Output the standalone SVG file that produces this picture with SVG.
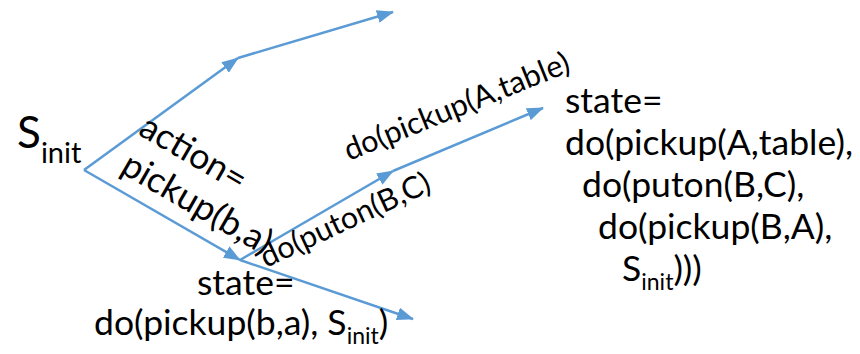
<svg xmlns="http://www.w3.org/2000/svg" width="860" height="354" viewBox="0 0 860 354">
<style>
text{font-family:Lato,"Open Sans","Liberation Sans",sans-serif;fill:#000}
.big{font-size:35.5px}
.lbl{font-size:30.5px}
.sub{font-size:23px}
.conn line{stroke:#5B9BD5;stroke-width:2.5;fill:none}
</style>
<defs>
<marker id="ah" markerUnits="userSpaceOnUse" markerWidth="17" markerHeight="13" refX="16" refY="6.5" orient="auto">
<path d="M0,0 L17,6.5 L0,13 z" fill="#5B9BD5"/>
</marker>
</defs>
<rect width="860" height="354" fill="#fff"/>
<g id="connectors" class="conn">
<line x1="84" y1="170" x2="238" y2="58" marker-end="url(#ah)"/>
<line x1="238" y1="58" x2="393" y2="12" marker-end="url(#ah)"/>
<line x1="84" y1="170" x2="240" y2="260" marker-end="url(#ah)"/>
<line x1="240" y1="260" x2="393" y2="171" marker-end="url(#ah)"/>
<line x1="393" y1="171" x2="543" y2="108" marker-end="url(#ah)"/>
<line x1="240" y1="260" x2="413" y2="319" marker-end="url(#ah)"/>
</g>
<g id="s-init">
<text x="17" y="148" style="font-size:44px">S<tspan style="font-size:29px" dy="15">init</tspan></text>
</g>
<g id="label-action">
<text class="big" transform="translate(137,134) rotate(30)">action=</text>
<text class="big" transform="translate(119,172) rotate(30)">pickup(b,a)</text>
</g>
<g id="label-pickupA">
<text class="lbl" transform="translate(349,161) rotate(-22)">do(pickup(A,table)</text>
</g>
<g id="label-puton">
<text class="lbl" transform="translate(266,268) rotate(-25)">do(puton(B,C)</text>
</g>
<g id="state-1">
<text class="big" x="197" y="295">state=</text>
<text class="big" x="94" y="335">do(pickup(b,a), S<tspan class="sub" dy="9">init</tspan><tspan dy="-9">)</tspan></text>
</g>
<g id="state-2">
<text class="big" x="565" y="113">state=</text>
<text class="big" x="565" y="155">do(pickup(A,table),</text>
<text class="big" x="582" y="197">do(puton(B,C),</text>
<text class="big" x="598" y="239">do(pickup(B,A),</text>
<text class="big" x="622" y="281">S<tspan class="sub" dy="9">init</tspan><tspan dy="-9">)))</tspan></text>
</g>
</svg>
